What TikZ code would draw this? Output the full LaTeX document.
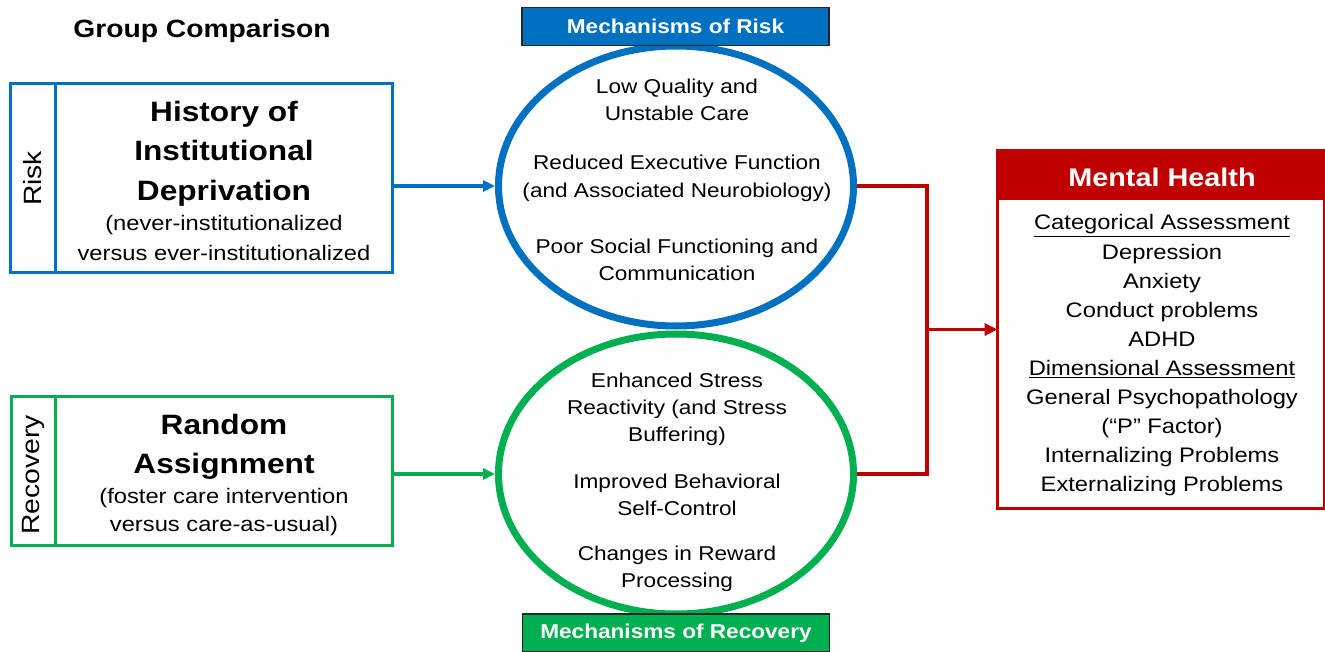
\documentclass[tikz,border=0pt]{standalone}
\usepackage{fontspec}
\setmainfont{Liberation Sans}[FakeStretch=1.13]
\usetikzlibrary{shapes.geometric,arrows.meta}
\definecolor{cblue}{HTML}{0070C0}
\definecolor{cgreen}{HTML}{00B050}
\definecolor{cred}{HTML}{C00000}
\definecolor{cdark}{HTML}{262626}
\newcommand{\myfs}[2]{\fontsize{#1}{#2}\selectfont}
\begin{document}
\begin{tikzpicture}[x=1pt,y=-1pt,
  txt/.style={inner sep=0pt, align=center, text=black},
  ell/.style={ellipse, minimum width=355, minimum height=280, line width=7pt, inner sep=0pt},
  sidebox/.style={rectangle, line width=3pt, minimum width=382, inner sep=0pt},
  mechlabel/.style={rectangle, draw=cdark, line width=1.2pt, text=white, font=\bfseries\myfs{20}{24}, minimum width=307, minimum height=38, inner sep=0pt},
  conn/.style={line width=3.5pt, -{Triangle[length=12pt,width=11pt]}},
  redline/.style={cred, line width=3.5pt},
  sidelabel/.style={inner sep=0pt, rotate=90, font=\myfs{25}{30}}
]
\useasboundingbox (0,0) rectangle (1325,652);

% title
\node[txt, font=\bfseries\myfs{25}{30}] (gc) at (202,31) {Group Comparison};

% ellipses
\node[ell, draw=cblue] (riskell) at (676,186) {};
\node[ell, draw=cgreen] (recell) at (676,474) {};

% mechanism labels
\node[mechlabel, fill=cblue] (mrisk) at (675.5,26.5) {Mechanisms of Risk};
\node[mechlabel, fill=cgreen] (mrec) at (676,633) {Mechanisms of Recovery};

% ellipse texts
\node[txt, font=\myfs{20}{27}] (r1) at (677,99.5) {Low Quality and\\Unstable Care};
\node[txt, font=\myfs{20}{28}] (r2) at (677,178) {Reduced Executive Function\\(and Associated Neurobiology)};
\node[txt, font=\myfs{20}{27}] (r3) at (677,259.5) {Poor Social Functioning and\\Communication};
\node[txt, font=\myfs{20}{27}] (g1) at (677,409) {Enhanced Stress\\Reactivity (and Stress\\Buffering)};
\node[txt, font=\myfs{20}{27}] (g2) at (677,495) {Improved Behavioral\\Self-Control};
\node[txt, font=\myfs{20}{27}] (g3) at (677,569) {Changes in Reward\\Processing};

% risk box
\node[sidebox, draw=cblue, minimum height=189] (riskbox) at (201,178.5) {};
\draw[cblue, line width=3pt] ([xshift=47pt]riskbox.north west) -- ([xshift=47pt]riskbox.south west);
\node[sidelabel] (risklbl) at (33,178.5) {Risk};
\node[txt, font=\bfseries\myfs{28}{39.5}] (risktitle) at (224,153.5) {History of\\Institutional\\Deprivation};
\node[txt, font=\myfs{21}{30}] (risksub) at (224,238) {(never-institutionalized\\versus ever-institutionalized};

% recovery box
\node[sidebox, draw=cgreen, minimum width=381, minimum height=149] (recbox) at (201.5,470.5) {};
\draw[cgreen, line width=3pt] ([xshift=46pt]recbox.north west) -- ([xshift=46pt]recbox.south west);
\node[sidelabel] (reclbl) at (33,475) {Recovery};
\node[txt, font=\bfseries\myfs{28}{39}] (rectitle) at (224,447) {Random\\Assignment};
\node[txt, font=\myfs{21}{28}] (recsub) at (224,512) {(foster care intervention\\versus care-as-usual)};

% arrows from boxes
\draw[conn, cblue] (riskell.west -| riskbox.east) -- (riskell.west);
\draw[conn, cgreen] (recell.west -| recbox.east) -- (recell.west);

% mental health box
\node[rectangle, minimum width=324, minimum height=355, inner sep=0pt, line width=3pt] (mh) at (1161,329.5) {};
\fill[cred] (mh.north west) rectangle ([yshift=-50pt]mh.north east);
\draw[cred, line width=3pt] (mh.north west) rectangle (mh.south east);
\node[txt, text=white, font=\bfseries\myfs{25.5}{30}] (mhtitle) at (1162,177.5) {Mental Health};
\node[txt, font=\myfs{21}{29.1}] (mhlist) at (1162,355.5) {\underline{Categorical Assessment}\\Depression\\Anxiety\\Conduct problems\\ADHD\\\underline{Dimensional Assessment}\\General Psychopathology\\(“P” Factor)\\Internalizing Problems\\Externalizing Problems};

% red connector
\coordinate (rj) at (927,330);
\draw[redline] (riskell.east) -| (rj) |- (recell.east);
\draw[redline, -{Triangle[length=13pt,width=12pt]}] (mh.west -| rj) -- (mh.west);
\end{tikzpicture}
\end{document}
